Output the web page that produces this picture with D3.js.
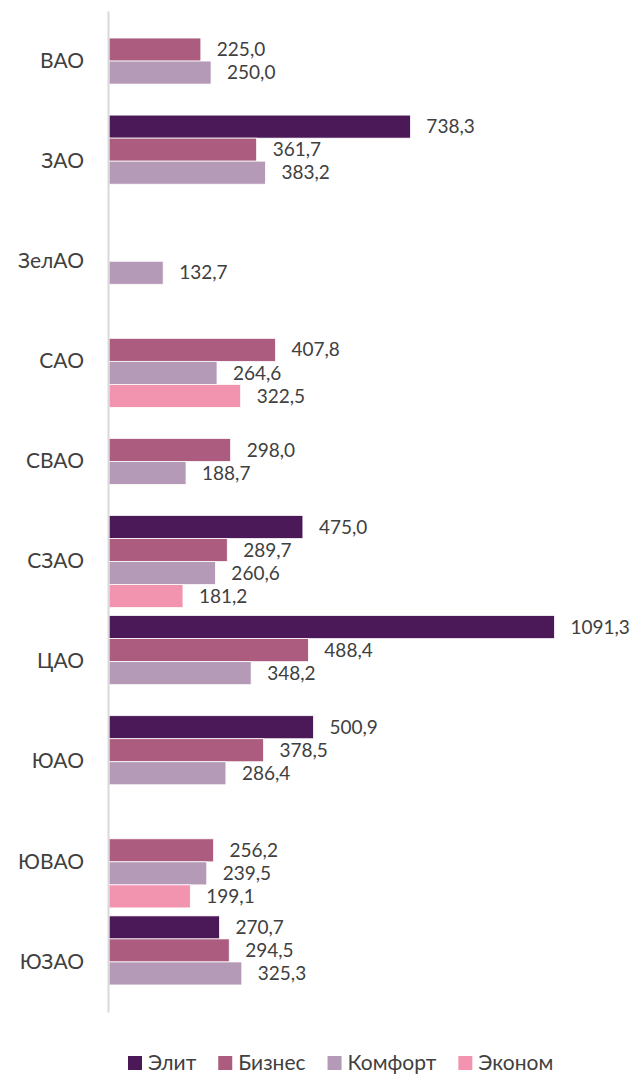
<!DOCTYPE html>
<html>
<head>
<meta charset="utf-8">
<script src="https://cdn.jsdelivr.net/npm/d3@7"></script>
<style>
  body { margin: 0; background: #fff; }
  text { font-family: Lato, "Open Sans", sans-serif; fill: #404040; }
</style>
</head>
<body>
<svg></svg>
<script>
// districts, top to bottom
let districts = ["ВАО", "ЗАО", "ЗелАО", "САО", "СВАО", "СЗАО", "ЦАО", "ЮАО", "ЮВАО", "ЮЗАО"];

// series names
let seriesNames = ["Элит", "Бизнес", "Комфорт", "Эконом"];
let colors = ["#4b1858", "#ac5c7e", "#b59ab8", "#f293b0"];

// values per series (null = no bar)
let elite   = [null, 738.3, null, null, null, 475.0, 1091.3, 500.9, null, 270.7];
let business = [225.0, 361.7, null, 407.8, 298.0, 289.7, 488.4, 378.5, 256.2, 294.5];
let comfort = [250.0, 383.2, 132.7, 264.6, 188.7, 260.6, 348.2, 286.4, 239.5, 325.3];
let economy = [null, null, null, 322.5, null, 181.2, null, null, 199.1, null];

let seriesValues = [elite, business, comfort, economy];

let width = 639;
let height = 1076;

let svg = d3.select("svg")
  .attr("width", width)
  .attr("height", height);

let xScale = d3.scaleLinear()
  .domain([0, 1100])
  .range([109, 558]);

let yScale = d3.scaleBand()
  .domain(districts)
  .range([11, 1012]);

let ySub = d3.scaleBand()
  .domain(seriesNames)
  .range([4, yScale.bandwidth() - 4]);

let fmt = (v) => v.toFixed(1).replace(".", ",");

// flatten into bar records
let bars = [];
seriesNames.forEach((s, si) => {
  districts.forEach((d, di) => {
    let v = seriesValues[si][di];
    if (v != null) bars.push({ district: d, series: s, value: v, color: colors[si] });
  });
});

svg.selectAll("rect.bar")
  .data(bars)
  .enter()
  .append("rect")
  .attr("class", "bar")
  .attr("x", xScale(0))
  .attr("y", (d) => yScale(d.district) + ySub(d.series))
  .attr("width", (d) => xScale(d.value) - xScale(0))
  .attr("height", ySub.bandwidth())
  .attr("fill", (d) => d.color)
  .attr("stroke", "#fff")
  .attr("stroke-width", 0.75);

svg.selectAll("text.label")
  .data(bars)
  .enter()
  .append("text")
  .attr("class", "label")
  .attr("x", (d) => xScale(d.value) + 16)
  .attr("y", (d) => yScale(d.district) + ySub(d.series) + ySub.bandwidth() / 2)
  .attr("dy", "0.35em")
  .style("font-size", "19px")
  .text((d) => fmt(d.value));

// category axis
let yAxis = d3.axisLeft(yScale).tickSize(0).tickSizeOuter(0).tickPadding(24);
let gy = svg.append("g")
  .attr("transform", "translate(108, 0)")
  .call(yAxis);
gy.select(".domain").attr("stroke", "#d9d9d9").attr("stroke-width", 2);
gy.selectAll("text")
  .style("font-size", "21px")
  .style("font-family", "Lato, 'Open Sans', sans-serif")
  .attr("fill", "#404040");

// legend
let legend = svg.append("g").attr("transform", "translate(0, 1063)");
let lx = 128;
seriesNames.forEach((s, i) => {
  legend.append("rect")
    .attr("x", lx)
    .attr("y", -7)
    .attr("width", 14)
    .attr("height", 14)
    .attr("fill", colors[i]);
  let t = legend.append("text")
    .attr("x", lx + 20)
    .attr("y", 0)
    .attr("dy", "0.35em")
    .style("font-size", "21px")
    .text(s);
  lx += 20 + t.node().getComputedTextLength() + 22;
});
</script>
</body>
</html>
